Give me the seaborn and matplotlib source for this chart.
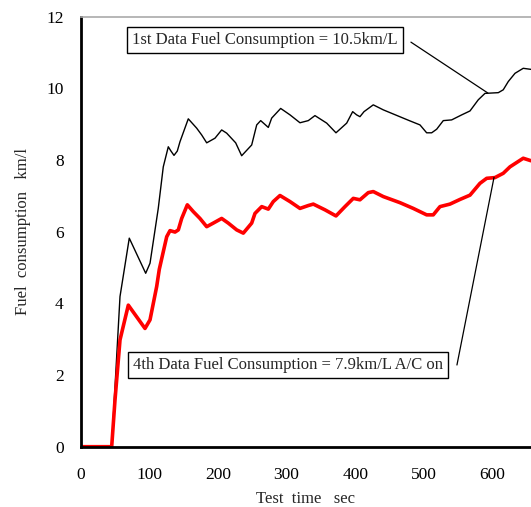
import numpy as np
import pandas as pd
import matplotlib
matplotlib.use("Agg")
import matplotlib.pyplot as plt
import seaborn as sns

# Data
time_1st = [0, 45.4, 57.5, 71.0, 94.9, 101.2, 113.2, 120.5, 127.8, 131.7, 136.1, 140.9, 144.8,
            156.9, 169.1, 176.4, 183.7, 195.8, 205.5, 212.8, 225.9, 234.6, 249.2, 256.5, 262.3,
            273.4, 278.3, 291.4, 305.0, 319.5, 331.6, 341.3, 358.4, 371.9, 387.5, 396.2, 402.0,
            406.8, 412.7, 426.2, 440.8, 478.6, 494.2, 503.9, 511.2, 518.5, 528.1, 540.3, 554.9,
            567.0, 579.0, 588.8, 608.2, 615.4, 622.7, 632.5, 644.5, 655.8]
fuel_1st = [0, 0, 4.19, 5.82, 4.84, 5.12, 6.65, 7.81, 8.37, 8.25, 8.13, 8.25, 8.51,
            9.15, 8.89, 8.70, 8.48, 8.61, 8.84, 8.75, 8.48, 8.12, 8.42, 8.98, 9.10,
            8.91, 9.17, 9.44, 9.26, 9.04, 9.10, 9.24, 9.03, 8.76, 9.03, 9.35, 9.26,
            9.21, 9.35, 9.54, 9.40, 9.10, 8.98, 8.76, 8.76, 8.86, 9.10, 9.12, 9.26,
            9.37, 9.68, 9.86, 9.88, 9.96, 10.19, 10.42, 10.56, 10.53]

time_4th = [0, 45.4, 50.2, 57.5, 69.6, 93.9, 101.2, 110.9, 114.7, 120.5, 125.5, 130.3, 137.6,
            142.4, 147.3, 155.5, 164.2, 173.9, 183.7, 193.3, 205.5, 215.1, 227.4, 237.0, 249.2,
            254.0, 263.8, 273.4, 280.6, 290.4, 305.0, 319.5, 331.6, 338.9, 355.9, 371.9, 385.0,
            397.1, 406.8, 418.9, 426.2, 440.8, 465.1, 484.4, 503.9, 513.5, 523.3, 537.8, 552.4,
            567.0, 581.5, 591.3, 603.3, 615.4, 625.2, 644.5, 655.8]
fuel_4th = [0, 0, 1.30, 2.98, 3.95, 3.30, 3.54, 4.47, 4.95, 5.44, 5.86, 6.03, 5.99,
            6.05, 6.37, 6.75, 6.56, 6.37, 6.14, 6.24, 6.37, 6.24, 6.05, 5.96, 6.24,
            6.51, 6.70, 6.63, 6.84, 7.01, 6.84, 6.65, 6.73, 6.77, 6.61, 6.44, 6.70,
            6.93, 6.89, 7.09, 7.12, 6.98, 6.81, 6.65, 6.47, 6.47, 6.70, 6.77, 6.90,
            7.02, 7.35, 7.49, 7.51, 7.63, 7.81, 8.05, 7.98]

x_ticks = [0, 100, 200, 300, 400, 500, 600]
y_ticks = [0, 2, 4, 6, 8, 10, 12]
label_1st = "1st Data Fuel Consumption = 10.5km/L"
label_4th = "4th Data Fuel Consumption = 7.9km/L A/C on"

df1 = pd.DataFrame({"time": time_1st, "fuel": fuel_1st})
df4 = pd.DataFrame({"time": time_4th, "fuel": fuel_4th})

sns.set_style("white")
plt.rcParams['font.family'] = ['Liberation Serif', 'DejaVu Serif']

W, H = 531, 507
fig = plt.figure(figsize=(W / 100, H / 100), dpi=100)
ax = fig.add_axes([80.5 / W, (H - 446.7) / H, (W - 80.5) / W, (446.7 - 16.7) / H])

sns.lineplot(data=df1, x="time", y="fuel", ax=ax, color="black", linewidth=1.0, sort=False)
sns.lineplot(data=df4, x="time", y="fuel", ax=ax, color="#ff0000", linewidth=2.6, sort=False)

ax.set_xlim(0, 655.8)
ax.set_ylim(0, 12)
ax.set_xticks(x_ticks)
ax.set_yticks(y_ticks)
ax.tick_params(direction="in", length=6, width=1.6, labelsize=12.5, colors="black")
ax.tick_params(axis="x", pad=14.5)
ax.tick_params(axis="y", pad=12)
ax.set_xlabel("Test  time   sec", fontsize=12, labelpad=6)
ax.set_ylabel("Fuel  consumption   km/l", fontsize=12, labelpad=11)

for side in ["left", "bottom"]:
    ax.spines[side].set_color("black")
    ax.spines[side].set_linewidth(2.0)
ax.spines["top"].set_color("#aaaaaa")
ax.spines["top"].set_linewidth(1.2)
ax.spines["right"].set_visible(False)

box = dict(boxstyle="square,pad=0.3", fc="white", ec="black", lw=1.0)
ax.text(268.6, 11.35, label_1st, fontsize=12, ha="center", va="center", bbox=box)
ax.text(302, 2.28, label_4th, fontsize=12, ha="center", va="center", bbox=box)

# leader lines from the label boxes to the curves
ax.annotate("", xy=(593, 9.87), xytext=(481, 11.29),
            arrowprops=dict(arrowstyle="-", color="black", lw=0.9, shrinkA=0, shrinkB=0))
ax.annotate("", xy=(602, 7.52), xytext=(548, 2.28),
            arrowprops=dict(arrowstyle="-", color="black", lw=0.9, shrinkA=0, shrinkB=0))

fig.savefig("out.png", dpi=100)
